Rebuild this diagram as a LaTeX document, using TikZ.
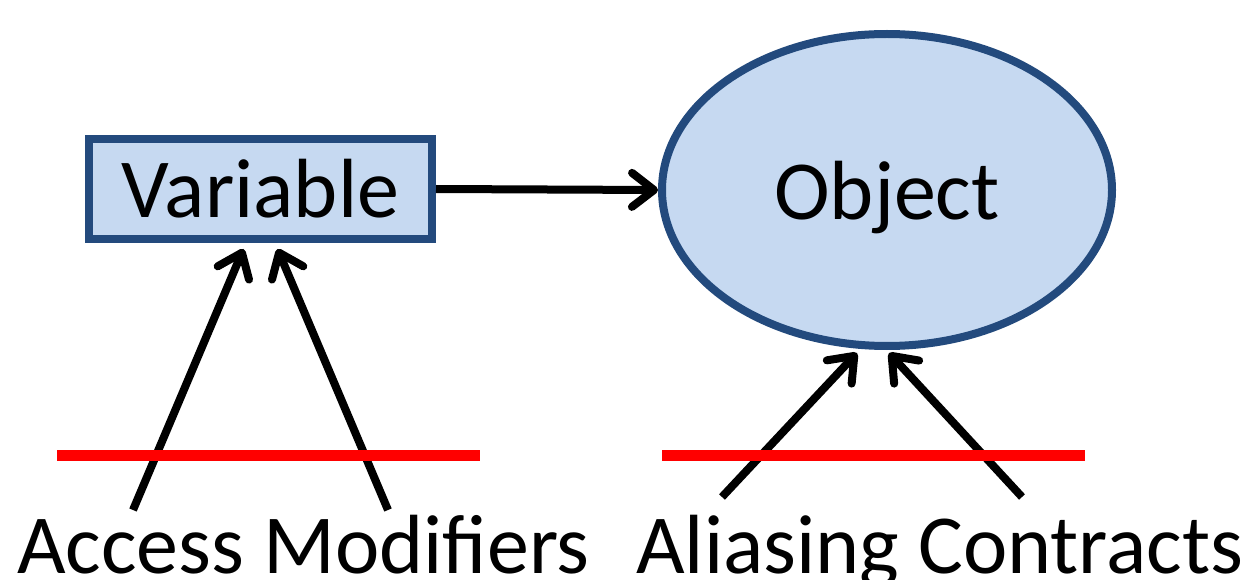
\documentclass[tikz,border=0pt]{standalone}
\usepackage{fontspec}
\setmainfont{Carlito}
\usetikzlibrary{positioning,arrows.meta,shapes.geometric}
\definecolor{boxFill}{RGB}{198,217,241}
\definecolor{boxLine}{RGB}{35,74,125}

\begin{document}
\begin{tikzpicture}[x=1pt,y=-1pt,
    block/.style={%
      draw=boxLine,
      fill=boxFill,
      line width=8pt,
      font=\fontsize{84}{92}\selectfont,
    },
    textlabel/.style={font=\fontsize{84}{92}\selectfont, inner sep=0pt, anchor=base west},
    arrow/.style={line width=8pt, -{Straight Barb[length=22pt,width=34pt,round]}},
    bar/.style={red, line width=11pt},
  ]
    \useasboundingbox (0,0) rectangle (1259,580);

    \node [block, rectangle, minimum width=343pt, minimum height=100pt] (V) at (260.5,189) {Variable};
    \node [block, ellipse, text depth=0pt, minimum width=450pt, minimum height=312pt] (O) at (887,190) {Object};

    \node [textlabel] (AM) at (17,573) {Access Modifiers};
    \node [textlabel] (AC) at (636,573) {Aliasing Contracts};

    \coordinate (t1) at (133,510);
    \coordinate (t2) at (388,510);
    \coordinate (t3) at (722,497);
    \coordinate (t4) at (1022,497);

    \draw [arrow] (V.east) -- (O.west);
    \draw [arrow] (t1) -- ([xshift=-17pt,yshift=-6pt]V.south);
    \draw [arrow] (t2) -- ([xshift=17pt,yshift=-6pt]V.south);
    \draw [arrow] (t3) -- ([xshift=-30pt,yshift=-3pt]O.south);
    \draw [arrow] (t4) -- ([xshift=2pt,yshift=-3pt]O.south);

    \draw [bar] (57,455) -- (480,455);
    \draw [bar] (662,455) -- (1085,455);
\end{tikzpicture}
\end{document}
